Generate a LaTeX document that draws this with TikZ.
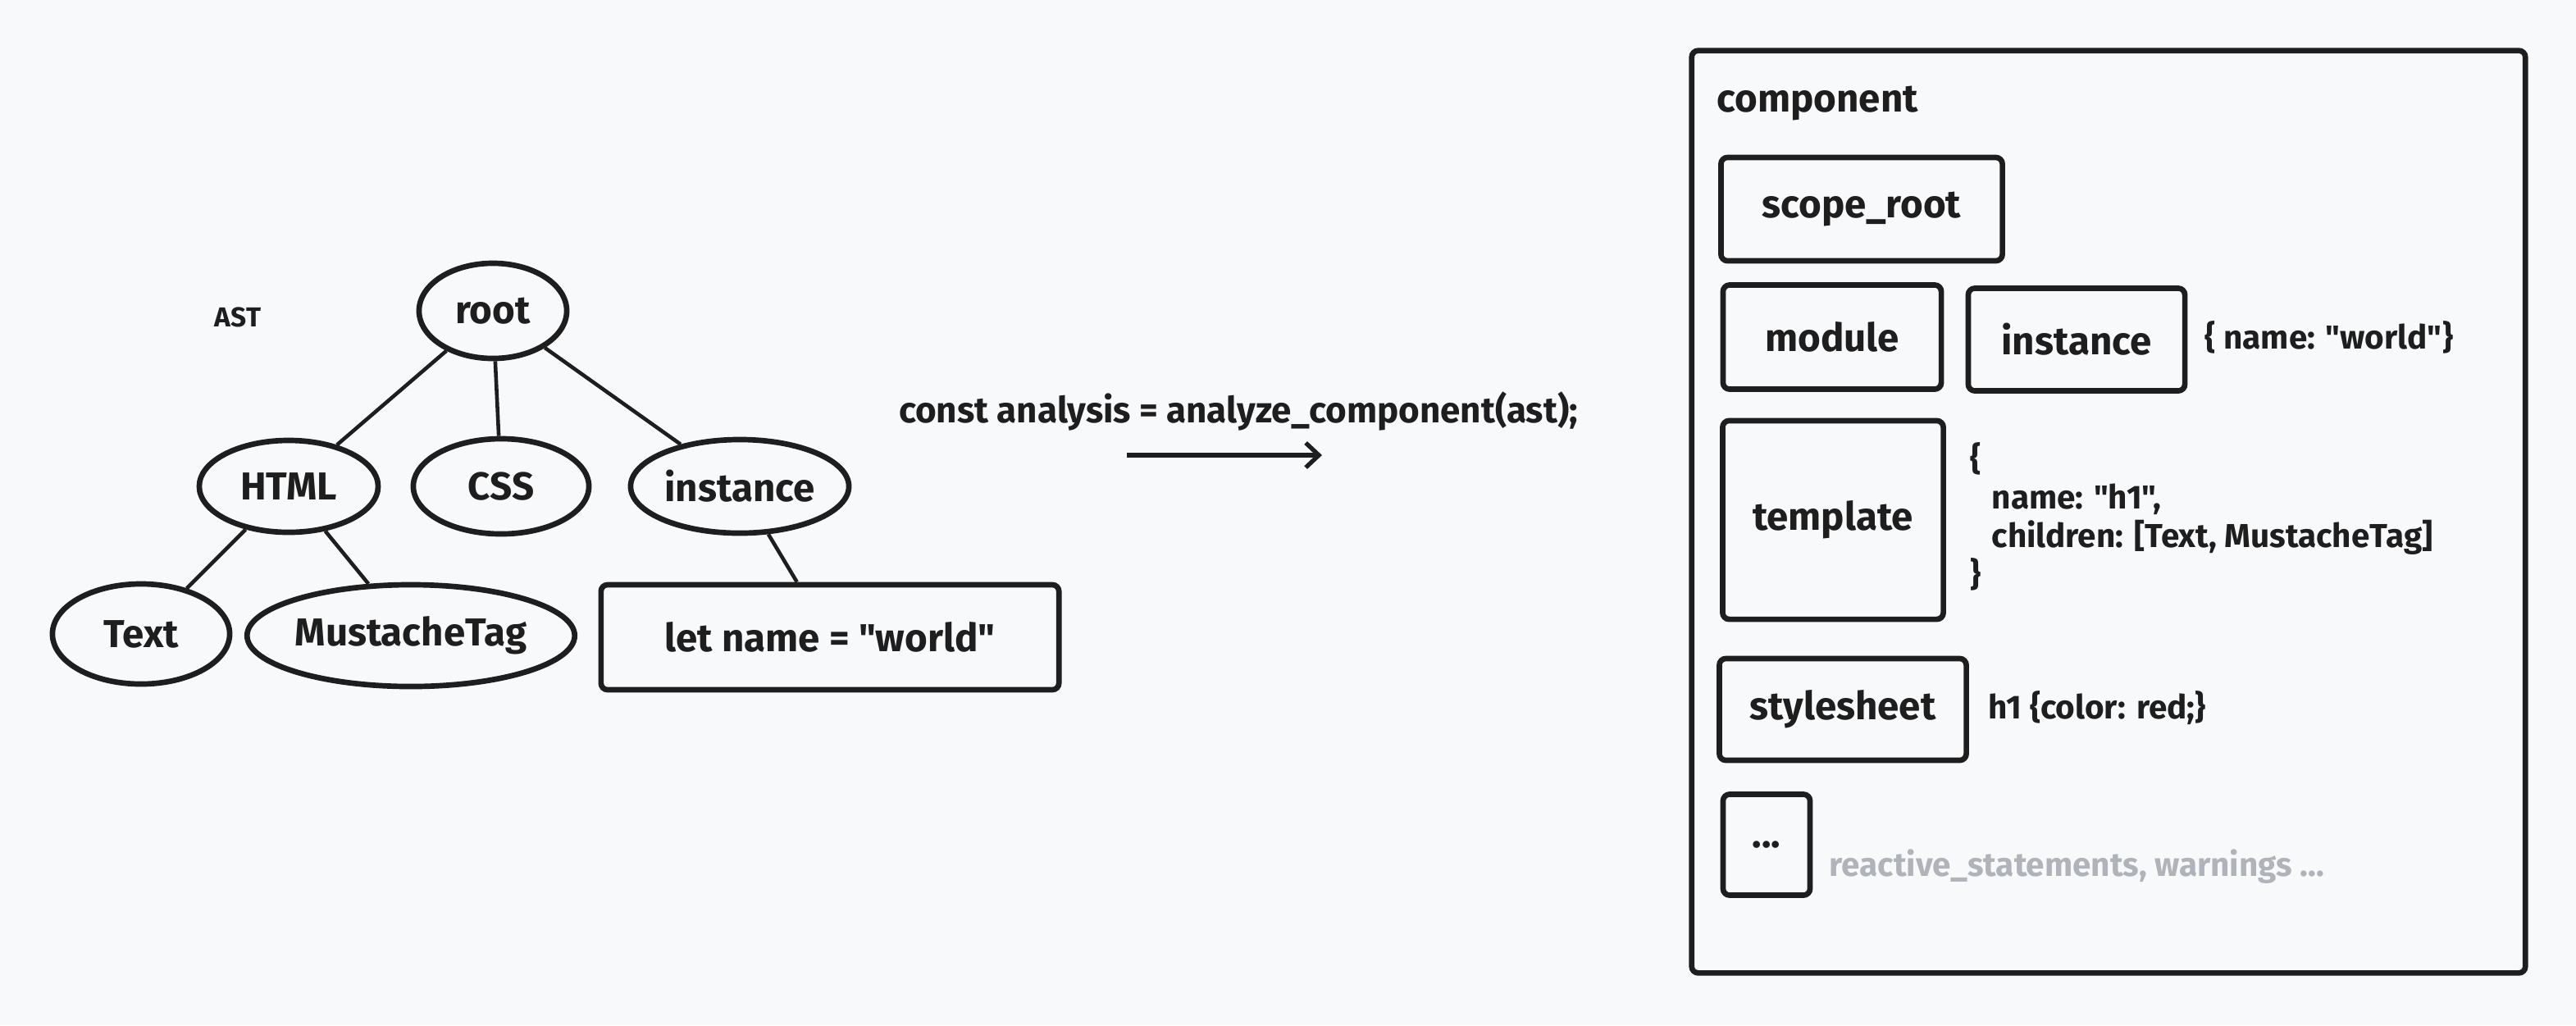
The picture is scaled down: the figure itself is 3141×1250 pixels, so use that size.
\documentclass[tikz,border=0pt]{standalone}
\usepackage{fontspec}
\setmainfont{Fira Sans}[Ligatures=TeXOff]
\usetikzlibrary{shapes.geometric,arrows.meta}
\definecolor{bgcol}{RGB}{248,249,251}
\definecolor{ink}{RGB}{30,30,30}
\definecolor{faint}{RGB}{176,180,186}
\begin{document}
\begin{tikzpicture}[x=0.01cm,y=-0.01cm,
    every node/.style={text=ink,font=\fontsize{13.5}{16}\selectfont\bfseries},
    astnode/.style={draw=ink,line width=1.9pt,ellipse,inner sep=0pt},
    part/.style={draw=ink,line width=1.9pt,rounded corners=0.08cm,inner sep=0pt},
    edge/.style={draw=ink,line width=1.3pt},
    note/.style={anchor=west,align=left,inner sep=0pt,font=\fontsize{11.5}{13.4}\selectfont\bfseries}]
      \fill[bgcol] (0,0) rectangle (3141,1250);
      \useasboundingbox (0,0) rectangle (3141,1250);
      % the tree
      \node (ast)      at ( 290,387) [font=\fontsize{9.5}{12}\selectfont\bfseries] {AST};
      \node (root)     at ( 601,379) [astnode,minimum width=1.80cm,minimum height=1.16cm] {root};
      \node (html)     at ( 352,593) [astnode,minimum width=2.18cm,minimum height=1.12cm] {HTML};
      \node (css)      at ( 611,593) [astnode,minimum width=2.14cm,minimum height=1.16cm] {CSS};
      \node (inst)     at ( 902,593) [astnode,minimum width=2.66cm,minimum height=1.14cm] {instance};
      \node (text)     at ( 172,773) [astnode,minimum width=2.16cm,minimum height=1.22cm] {Text};
      \node (mustache) at ( 501,775) [astnode,minimum width=3.80cm,minimum height=1.24cm] {MustacheTag};
      \node (letbox)   at (1012,777) [part,minimum width=5.58cm,minimum height=1.28cm] {let name = "world"};
      \draw[edge] (root) -- (html);
      \draw[edge] (root) -- (css);
      \draw[edge] (root) -- (inst);
      \draw[edge] (html) -- (text);
      \draw[edge] (html) -- (mustache);
      \draw[edge] (inst) -- (letbox);
      % the call
      \node (call) at (1510,501) [font=\fontsize{12.5}{14}\selectfont\bfseries] {const analysis = analyze\_component(ast);};
      \coordinate (arrfrom) at (1374,555);
      \coordinate (arrto)   at (1612,555);
      \draw[edge,line width=1.5pt,-{Straight Barb[length=0.16cm,width=0.30cm]}] (arrfrom) -- (arrto);
      % the component
      \node (comp)      at (2571,624) [part,minimum width=10.16cm,minimum height=11.24cm] {};
      \node (complabel) at (2093,126) [note,font=\fontsize{13.5}{16}\selectfont\bfseries] {component};
      \node (scoperoot) at (2270,255) [part,minimum width=3.43cm,minimum height=1.26cm] {scope\_root};
      \node (module)    at (2234,411) [part,minimum width=2.66cm,minimum height=1.27cm] {module};
      \node (cinst)     at (2532,414) [part,minimum width=2.64cm,minimum height=1.25cm] {instance};
      \node (template)  at (2235,634) [part,minimum width=2.69cm,minimum height=2.42cm] {template};
      \node (styles)    at (2247,865) [part,minimum width=3.01cm,minimum height=1.24cm] {stylesheet};
      \node (more)      at (2154,1030) [part,minimum width=1.06cm,minimum height=1.23cm] {...};
      \node (instnote)  at (2688,411) [note] {\{ name: "world"\}};
      \node (tplnote)   at (2402,630) [note] {\{\\\hspace*{0.26cm}name: "h1",\\\hspace*{0.26cm}children: [Text, MustacheTag]\\\}};
      \node (stylenote) at (2424,863) [note] {h1 \{color: red;\}};
      \node (morenote)  at (2230,1057) [note,text=faint] {reactive\_statements, warnings ...};
\end{tikzpicture}
\end{document}
